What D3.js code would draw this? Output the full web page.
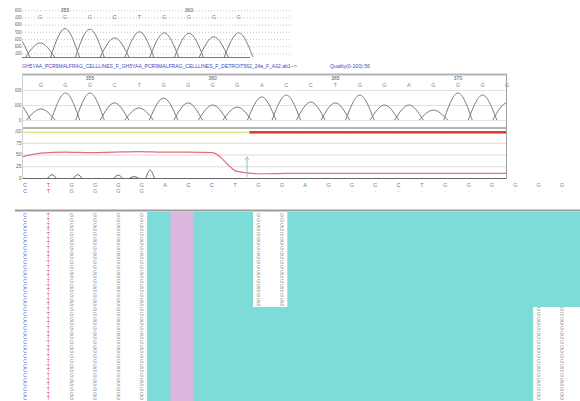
<!DOCTYPE html>
<html lang="en">
<head>
<meta charset="UTF-8">
<title>Trace</title>
<style>
  body {margin:0;background:#fff;}
  svg {display:block;font-family:"Liberation Sans",Arial,sans-serif;}
  .tk {font-size:5px;fill:#666;}
  .pos {font-size:5px;fill:#555;}
  .base {font-size:5.5px;text-anchor:middle;}
  .al {font-size:5px;text-anchor:middle;}
</style>
</head>
<body>
<svg id="chart" width="580" height="401"></svg>
<script src="https://cdn.jsdelivr.net/npm/d3@7"></script>
<script>
// ---- data ----
// top (reference) trace
var topPositions = [353, 354, 355, 356, 357, 358, 359, 360, 361, 362];
var topBases     = ["", "G", "G", "G", "C", "T", "G", "G", "G", "G"];
var topPeaks     = [600, 390, 790, 770, 530, 700, 670, 660, 560, 670];
var topTicks     = [100, 300, 500, 700, 900, 1100, 1300];
var topMarks     = [355, 360];

// read trace
var readName     = "GH5YAA_PCR9MALFRAG_CELLLINES_F_GH5YAA_PCR9MALFRAG_CELLLINES_F_DETROIT562_24a_F_A02.ab1-->";
var readQuality  = "Quality(0-100):56";
var readPositions = [352, 353, 354, 355, 356, 357, 358, 359, 360, 361, 362, 363, 364, 365, 366, 367, 368, 369, 370, 371, 372];
var readBases     = ["", "G", "G", "G", "C", "T", "G", "G", "G", "G", "A", "C", "C", "T", "G", "G", "A", "G", "G", "G", "G"];
var readPeaks     = [600, 370, 900, 900, 570, 400, 730, 570, 500, 430, 770, 830, 600, 570, 830, 500, 500, 330, 900, 830, 570];
var readTicks     = [0, 500, 1000];
var readMarks     = [355, 360, 365, 370];

// quality panel
var qualityValues = [42, 53, 55, 54, 55, 56, 55, 55, 54, 14, 9, 10, 10, 10, 10, 10, 10, 10, 10, 10, 10];
var qualityClass  = ["ok", "ok", "ok", "ok", "ok", "ok", "ok", "ok", "ok", "ok", "bad", "bad", "bad", "bad", "bad", "bad", "bad", "bad", "bad", "bad", "bad"];
var qualityTicks  = [0, 25, 50, 75, 100];
var noisePos      = [353.45, 354.5, 356.15, 356.8, 357.45];
var noiseVals     = [7, 7, 6, 3, 17];
var arrowPos      = 361.4;

// base calls under the trace
var callTop    = ["C","T","G","G","G","G","A","C","C","T","G","G","A","G","G","G","C","T","G","G","G","G","G","G"];
var callBottom = ["C","T","G","G","G","G","-","-","-","-","-","-","-","-","-","-","-","-","-","-","-","-","-","-"];

// alignment
var alignRowCount = 40;
var alignLead   = ["C","T","G","G","G","G"];
var matchFrom   = 6;
var insertCol   = 7;
var gapBlocks   = [{cols:[10, 11], rows:[0, 19]}, {cols:[22, 23], rows:[20, 39]}];

var baseColor = {A:"#3c9c3c", C:"#6060d0", G:"#8a8a8a", T:"#e0405c", "-":"#c8c8c8", "":"#fff"};

var svg = d3.select("#chart");
var defs = svg.append("defs");
defs.append("clipPath").attr("id", "c1").append("rect").attr("x", 22).attr("y", 0).attr("width", 268).attr("height", 60);
defs.append("clipPath").attr("id", "c2").append("rect").attr("x", 22).attr("y", 74).attr("width", 485).attr("height", 105);
defs.append("clipPath").attr("id", "cl").append("rect").attr("x", 15).attr("y", 0).attr("width", 8).attr("height", 200);

var hw = 0.58;
function bell(x, y, p, v, w) {
  return d3.line().curve(d3.curveNatural)([[x(p - w), y(0)], [x(p), y(v)], [x(p + w), y(0)]]);
}

// ---- top trace ----
var x1 = d3.scaleLinear().domain([355, 360]).range([65, 189]);
var y1 = d3.scaleLinear().domain([0, 1000]).range([57, 21]);

var g1 = svg.append("g");
g1.selectAll(".grid").data(topTicks).enter().append("line")
  .attr("x1", 22).attr("x2", 290)
  .attr("y1", d => y1(d) + 0.5).attr("y2", d => y1(d) + 0.5)
  .attr("stroke", "#c8c8c8").attr("stroke-dasharray", "1,2");
g1.append("g").attr("clip-path", "url(#cl)").selectAll("text").data(topTicks).enter().append("text")
  .attr("class", "tk").attr("x", 21.5).attr("y", d => y1(d) + 1.8).attr("text-anchor", "end")
  .text(d => d);
g1.append("g").attr("clip-path", "url(#c1)").selectAll("path").data(topPositions).enter().append("path")
  .attr("d", (d, i) => bell(x1, y1, d, topPeaks[i], hw))
  .attr("fill", "none").attr("stroke", "#7a7a7a").attr("stroke-width", 1);
g1.append("line").attr("x1", 22).attr("x2", 250).attr("y1", 57.5).attr("y2", 57.5).attr("stroke", "#777");
g1.selectAll(".b").data(topPositions).enter().append("text")
  .attr("class", "base").attr("x", d => x1(d)).attr("y", 19)
  .attr("fill", (d, i) => baseColor[topBases[i]]).text((d, i) => topBases[i]);
g1.selectAll(".m").data(topMarks).enter().append("text")
  .attr("class", "pos").attr("x", d => x1(d)).attr("y", 12).attr("text-anchor", "middle").text(d => d);

// ---- read trace ----
var x2 = d3.scaleLinear().domain([355, 370]).range([90, 458]);
var y2 = d3.scaleLinear().domain([0, 1000]).range([120, 90]);

svg.append("text").attr("x", 22).attr("y", 68).attr("fill", "#4646c0").style("font-size", "5px")
  .attr("textLength", 275).attr("lengthAdjust", "spacingAndGlyphs").text(readName);
svg.append("text").attr("x", 330).attr("y", 68).attr("fill", "#4646c0").style("font-size", "5px")
  .attr("textLength", 40).attr("lengthAdjust", "spacingAndGlyphs").text(readQuality);

var g2 = svg.append("g");
g2.selectAll(".grid").data(readTicks).enter().append("line")
  .attr("x1", 22).attr("x2", 507)
  .attr("y1", d => y2(d) + 0.5).attr("y2", d => y2(d) + 0.5)
  .attr("stroke", "#e2e2e2");
g2.append("g").attr("clip-path", "url(#cl)").selectAll("text").data(readTicks).enter().append("text")
  .attr("class", "tk").attr("x", 21.5).attr("y", d => y2(d) + 1.8).attr("text-anchor", "end")
  .text(d => d);
g2.append("g").attr("clip-path", "url(#c2)").selectAll("path").data(readPositions).enter().append("path")
  .attr("d", (d, i) => bell(x2, y2, d, readPeaks[i], hw))
  .attr("fill", "none").attr("stroke", "#7a7a7a").attr("stroke-width", 1);
g2.selectAll(".b").data(readPositions).enter().append("text")
  .attr("class", "base").attr("x", d => x2(d)).attr("y", 87)
  .attr("fill", (d, i) => readBases[i] === "T" ? "#b07080" : "#8a8a8a").text((d, i) => readBases[i]);
g2.selectAll(".m").data(readMarks).enter().append("text")
  .attr("class", "pos").attr("x", d => x2(d)).attr("y", 79.5).attr("text-anchor", "middle").text(d => d);

// ---- quality panel ----
var y3 = d3.scaleLinear().domain([0, 100]).range([178, 131]);
var g3 = svg.append("g");
var gridCol = ["#666", "#dcdcdc", "#efd0d4", "#efd0d4", "#fff"];
g3.selectAll(".grid").data(qualityTicks).enter().append("line")
  .attr("x1", 22).attr("x2", 507)
  .attr("y1", d => y3(d) + 0.5).attr("y2", d => y3(d) + 0.5)
  .attr("stroke", (d, i) => gridCol[i]).attr("stroke-width", (d, i) => i === 0 ? 1.2 : 1);
g3.append("g").attr("clip-path", "url(#cl)").selectAll("text").data(qualityTicks).enter().append("text")
  .attr("class", "tk").attr("x", 21.5).attr("y", d => y3(d) + 1.8).attr("text-anchor", "end")
  .text(d => d);

var qc = g3.append("g").attr("clip-path", "url(#c2)");
var step2 = x2(356) - x2(355);
qc.selectAll(".qb").data(readPositions).enter().append("rect")
  .attr("x", d => x2(d) - step2 / 2).attr("width", step2 + 0.5)
  .attr("y", (d, i) => qualityClass[i] === "ok" ? 131.5 : 131)
  .attr("height", (d, i) => qualityClass[i] === "ok" ? 1.6 : 2.6)
  .attr("fill", (d, i) => qualityClass[i] === "ok" ? "#e0ea8a" : "#e23a3a");
qc.append("path")
  .attr("d", d3.line().curve(d3.curveMonotoneX).x(d => x2(d)).y((d, i) => y3(qualityValues[i]))(readPositions))
  .attr("fill", "none").attr("stroke", "#dd6f7e").attr("stroke-width", 1.2);
qc.selectAll(".nz").data(noisePos).enter().append("path")
  .attr("d", (d, i) => bell(x2, y3, d, noiseVals[i], 0.17))
  .attr("fill", "none").attr("stroke", "#555").attr("stroke-width", 0.9);
qc.append("line").attr("x1", x2(arrowPos)).attr("x2", x2(arrowPos))
  .attr("y1", y3(2)).attr("y2", y3(45)).attr("stroke", "#7fd0b0").attr("stroke-width", 1);
qc.append("path")
  .attr("d", d3.line()([[x2(arrowPos) - 2, y3(38)], [x2(arrowPos), y3(45)], [x2(arrowPos) + 2, y3(38)]]))
  .attr("fill", "none").attr("stroke", "#7fd0b0").attr("stroke-width", 0.8);

// frame of read + quality panels
var fr = svg.append("g").attr("fill", "none");
fr.append("line").attr("x1", 22).attr("x2", 507).attr("y1", 74.5).attr("y2", 74.5).attr("stroke", "#b4b4b4").attr("stroke-width", 2);
fr.append("line").attr("x1", 22).attr("x2", 507).attr("y1", 128).attr("y2", 128).attr("stroke", "#b4b4b4").attr("stroke-width", 2);
fr.append("line").attr("x1", 506.5).attr("x2", 506.5).attr("y1", 74).attr("y2", 179).attr("stroke", "#a0a0a0");
fr.append("line").attr("x1", 22.5).attr("x2", 22.5).attr("y1", 74).attr("y2", 179).attr("stroke", "#d0d0d0");

// ---- base calls ----
var colX = d3.scalePoint().domain(d3.range(callTop.length)).range([25, 562]);
var cstep = colX.step();
svg.selectAll(".ct").data(callTop).enter().append("text")
  .attr("class", "base").attr("x", (d, i) => colX(i)).attr("y", 186.5)
  .attr("fill", d => baseColor[d]).text(d => d);
svg.selectAll(".cb").data(callBottom).enter().append("text")
  .attr("class", "base").attr("x", (d, i) => colX(i)).attr("y", 192.5)
  .attr("fill", d => baseColor[d]).text(d => d);

svg.append("line").attr("x1", 15).attr("x2", 580).attr("y1", 210.5).attr("y2", 210.5).attr("stroke", "#9c9c9c").attr("stroke-width", 2);

// ---- alignment ----
var rowY = d3.scaleBand().domain(d3.range(alignRowCount)).range([213, 401]);
var rs = rowY.step();
var ga = svg.append("g");
ga.append("rect").attr("x", colX(matchFrom) - 0.77 * cstep).attr("y", 212)
  .attr("width", 580 - (colX(matchFrom) - 0.77 * cstep)).attr("height", 189).attr("fill", "#7ddbd8");
ga.append("rect").attr("x", colX(insertCol) - 0.77 * cstep).attr("y", 212)
  .attr("width", cstep).attr("height", 189).attr("fill", "#dcb6dc");
ga.selectAll(".gap").data(gapBlocks).enter().append("rect")
  .attr("x", d => colX(d.cols[0]) - 5.5)
  .attr("width", d => Math.min(580, colX(d.cols[1]) + 5.5) - (colX(d.cols[0]) - 5.5) + (d.cols[1] === callTop.length - 1 ? 20 : 0))
  .attr("y", d => d.rows[0] === 0 ? 212 : rowY(d.rows[0]))
  .attr("height", d => rowY(d.rows[1]) + rs - (d.rows[0] === 0 ? 212 : rowY(d.rows[0])))
  .attr("fill", "#fff");

var cells = [];
d3.range(alignRowCount).forEach(function(r) {
  alignLead.forEach(function(b, c) { cells.push({r: r, c: c, b: b}); });
  gapBlocks.forEach(function(g) {
    if (r >= g.rows[0] && r <= g.rows[1]) {
      d3.range(g.cols[0], g.cols[1] + 1).forEach(function(c) { cells.push({r: r, c: c, b: callTop[c]}); });
    }
  });
});
ga.selectAll(".al").data(cells).enter().append("text")
  .attr("class", "al").attr("x", d => colX(d.c)).attr("y", d => rowY(d.r) + rs - 0.6)
  .attr("fill", d => baseColor[d.b]).text(d => d.b);
</script>
</body>
</html>
